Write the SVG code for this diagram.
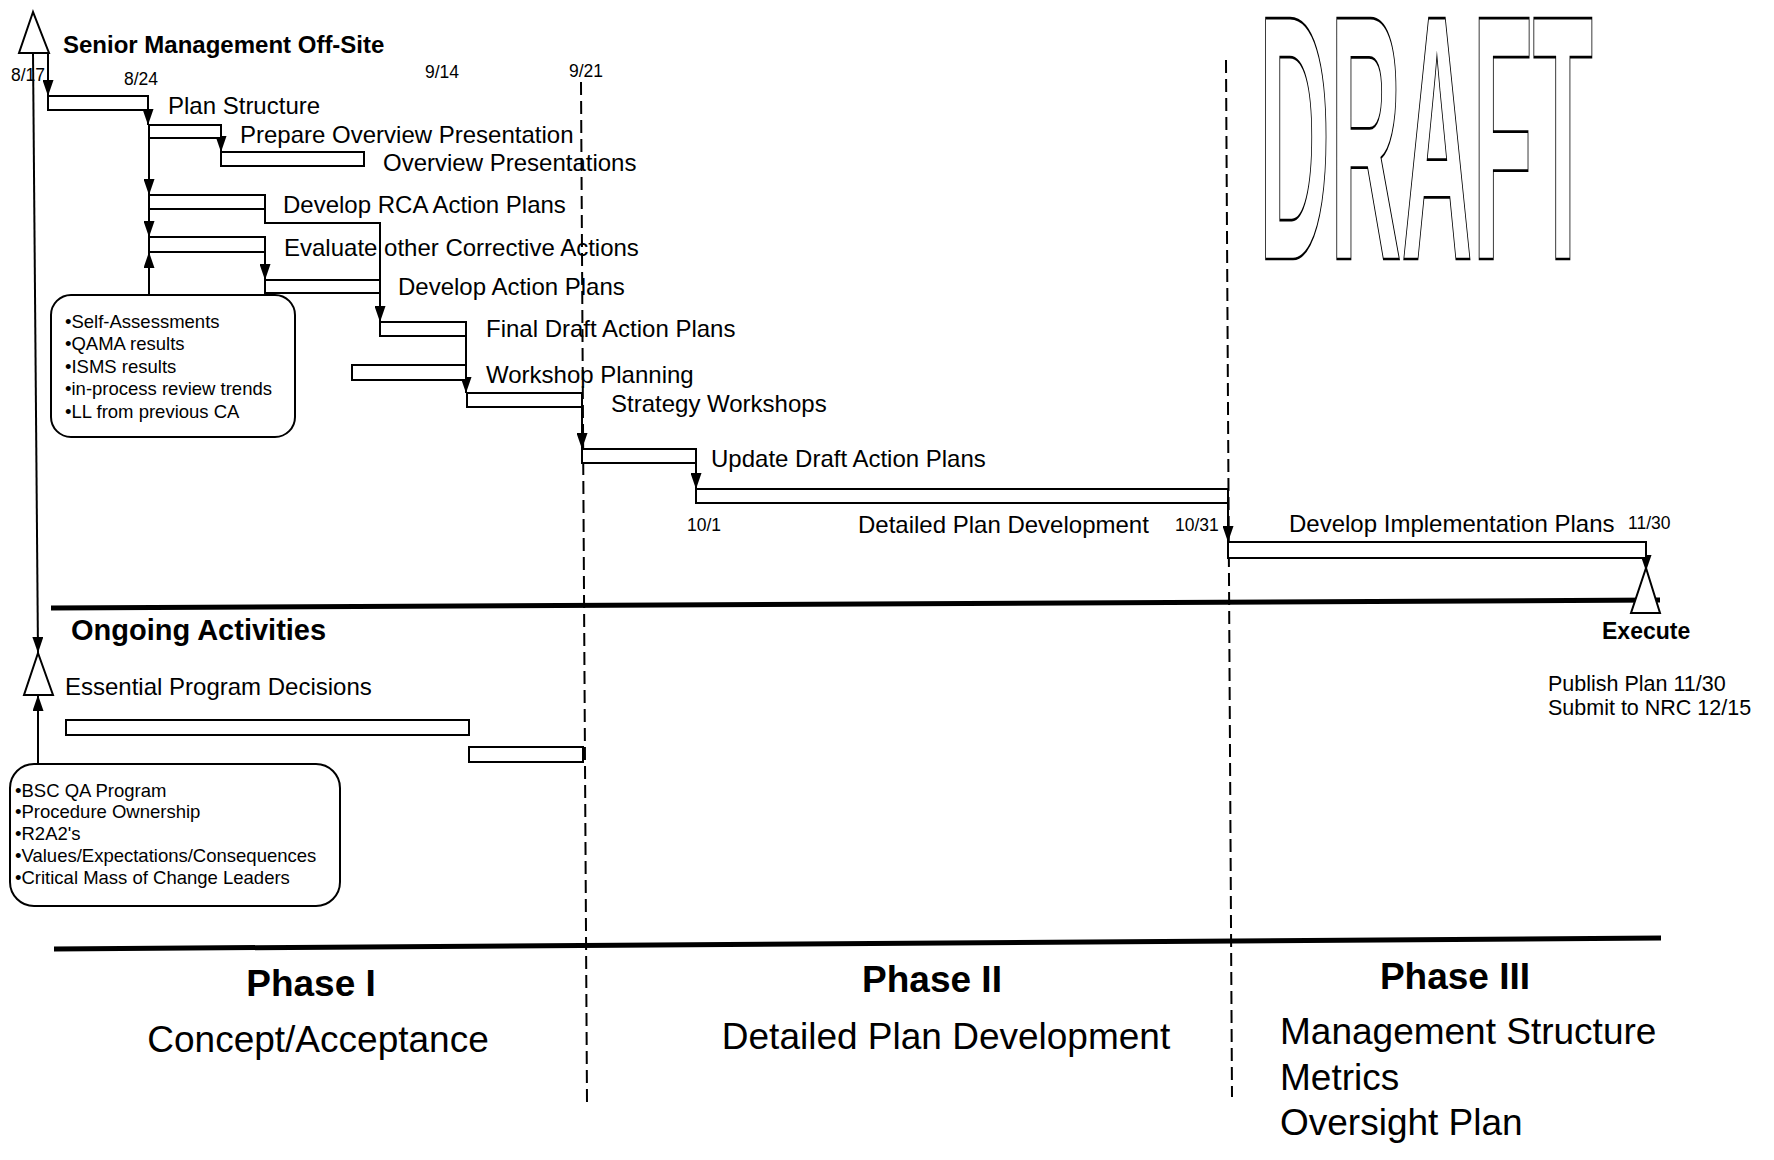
<svg xmlns="http://www.w3.org/2000/svg" width="1774" height="1160" viewBox="0 0 1774 1160">
<style>
text{font-family:"Liberation Sans",Arial,Helvetica,sans-serif;fill:#000}
.t{font-size:24px}
.d{font-size:17.5px}
.b{font-size:18.5px}
.bold{font-weight:bold}
.bar{fill:#fff;stroke:#000;stroke-width:2}
.box{fill:#fff;stroke:#000;stroke-width:2}
.ms{fill:#fff;stroke:#000;stroke-width:2;stroke-linejoin:miter}
.c{fill:none;stroke:#000;stroke-width:2}
.dash{fill:none;stroke:#000;stroke-width:2;stroke-dasharray:13 6}
.thick{fill:none;stroke:#000;stroke-width:5}
.ph{font-size:37px}
</style>
<defs>
<marker id="ah" viewBox="0 0 16 11" refX="16" refY="5.5" markerWidth="16" markerHeight="11" markerUnits="userSpaceOnUse" orient="auto">
<path d="M0,0 L16,5.5 L0,11 Z" fill="#000"/>
</marker>
</defs>
<rect width="1774" height="1160" fill="#fff"/>

<g id="draft-stamp">
<text transform="translate(1259,259) scale(0.2816,1)" x="0" y="0" font-size="350" font-weight="bold" style="fill:#fff;stroke:#000;stroke-width:2" vector-effect="non-scaling-stroke">DRAFT</text>
</g>

<g id="phase-lines">
<line class="dash" x1="581" y1="82" x2="587" y2="1102"/>
<line class="dash" x1="1226" y1="60" x2="1232" y2="1097"/>
<line class="thick" x1="51" y1="608" x2="1660" y2="600"/>
<line class="thick" x1="54" y1="949" x2="1661" y2="938"/>
</g>

<g id="connectors">
<path class="c" d="M48,53 V96" marker-end="url(#ah)"/>
<path class="c" d="M148,110 V125" marker-end="url(#ah)"/>
<path class="c" d="M221,138 V152" marker-end="url(#ah)"/>
<path class="c" d="M149,138 V195" marker-end="url(#ah)"/>
<path class="c" d="M149,209 V237" marker-end="url(#ah)"/>
<path class="c" d="M149,295 V252" marker-end="url(#ah)"/>
<path class="c" d="M265,209 V223 H380 V322" marker-end="url(#ah)"/>
<path class="c" d="M265,252 V280" marker-end="url(#ah)"/>
<path class="c" d="M466,336 V393" marker-end="url(#ah)"/>
<path class="c" d="M582,407 V449" marker-end="url(#ah)"/>
<path class="c" d="M696,463 V489" marker-end="url(#ah)"/>
<path class="c" d="M1228,503 V542" marker-end="url(#ah)"/>
<path class="c" d="M1646,558 V571" marker-end="url(#ah)"/>
<path class="c" d="M33,53 L38,653" marker-end="url(#ah)"/>
<path class="c" d="M38,763 V695" marker-end="url(#ah)"/>
</g>

<g id="senior-offsite">
<polygon class="ms" points="33,12 19,53 49,53"/>
<text class="bold" x="63" y="53" font-size="24">Senior Management Off-Site</text>
</g>

<g id="dates">
<text class="d" x="11" y="81">8/17</text>
<text class="d" x="124" y="85">8/24</text>
<text class="d" x="425" y="78">9/14</text>
<text class="d" x="569" y="77">9/21</text>
<text class="d" x="687" y="531">10/1</text>
<text class="d" x="1175" y="531">10/31</text>
<text class="d" x="1628" y="529">11/30</text>
</g>

<g id="plan-structure">
<rect class="bar" x="48" y="96" width="100" height="14"/>
<text class="t" x="168" y="114">Plan Structure</text>
</g>
<g id="prepare-overview">
<rect class="bar" x="149" y="125" width="72" height="13"/>
<text class="t" x="240" y="143">Prepare Overview Presentation</text>
</g>
<g id="overview-presentations">
<rect class="bar" x="221" y="152" width="143" height="14"/>
<text class="t" x="383" y="171">Overview Presentations</text>
</g>
<g id="develop-rca">
<rect class="bar" x="149" y="195" width="116" height="14"/>
<text class="t" x="283" y="213">Develop RCA Action Plans</text>
</g>
<g id="evaluate">
<rect class="bar" x="149" y="237" width="116" height="15"/>
<text class="t" x="284" y="256">Evaluate other Corrective Actions</text>
</g>
<g id="develop-action-plans">
<rect class="bar" x="265" y="280" width="115" height="13"/>
<text class="t" x="398" y="295">Develop Action Plans</text>
</g>
<g id="final-draft">
<rect class="bar" x="380" y="322" width="86" height="14"/>
<text class="t" x="486" y="337">Final Draft Action Plans</text>
</g>
<g id="workshop-planning">
<rect class="bar" x="352" y="365" width="114" height="15"/>
<text class="t" x="486" y="383">Workshop Planning</text>
</g>
<g id="strategy-workshops">
<rect class="bar" x="467" y="393" width="115" height="14"/>
<text class="t" x="611" y="412">Strategy Workshops</text>
</g>
<g id="update-draft">
<rect class="bar" x="582" y="449" width="114" height="14"/>
<text class="t" x="711" y="467">Update Draft Action Plans</text>
</g>
<g id="detailed-plan">
<rect class="bar" x="696" y="489" width="532" height="14"/>
<text class="t" x="858" y="533">Detailed Plan Development</text>
</g>
<g id="develop-implementation">
<rect class="bar" x="1228" y="542" width="418" height="16"/>
<text class="t" x="1289" y="532">Develop Implementation Plans</text>
</g>

<g id="inputs-box">
<rect class="box" x="51" y="295" width="244" height="142" rx="20" ry="20"/>
<text class="b" x="65" y="328">•Self-Assessments</text>
<text class="b" x="65" y="350">•QAMA results</text>
<text class="b" x="65" y="373">•ISMS results</text>
<text class="b" x="65" y="395">•in-process review trends</text>
<text class="b" x="65" y="418">•LL from previous CA</text>
</g>

<g id="execute">
<polygon class="ms" points="1646,568 1631,613 1660,613"/>
<text class="bold" x="1602" y="639" font-size="23">Execute</text>
<text x="1548" y="691" font-size="21.5">Publish Plan 11/30</text>
<text x="1548" y="715" font-size="21.5">Submit to NRC 12/15</text>
</g>

<g id="ongoing-activities">
<text class="bold" x="71" y="640" font-size="29">Ongoing Activities</text>
</g>
<g id="essential-decisions">
<polygon class="ms" points="38,653 24,695 53,695"/>
<text class="t" x="65" y="695">Essential Program Decisions</text>
</g>
<g id="ongoing-bar-1">
<rect class="bar" x="66" y="720" width="403" height="15"/>
</g>
<g id="ongoing-bar-2">
<rect class="bar" x="469" y="747" width="114" height="15"/>
</g>
<g id="decisions-box">
<rect class="box" x="10" y="764" width="330" height="142" rx="24" ry="24"/>
<text class="b" x="15" y="797">•BSC QA Program</text>
<text class="b" x="15" y="818">•Procedure Ownership</text>
<text class="b" x="15" y="840">•R2A2's</text>
<text class="b" x="15" y="862">•Values/Expectations/Consequences</text>
<text class="b" x="15" y="884">•Critical Mass of Change Leaders</text>
</g>

<g id="phase-1">
<text class="ph bold" x="311" y="996" text-anchor="middle">Phase I</text>
<text class="ph" x="318" y="1052" text-anchor="middle">Concept/Acceptance</text>
</g>
<g id="phase-2">
<text class="ph bold" x="932" y="992" text-anchor="middle">Phase II</text>
<text class="ph" x="946" y="1049" text-anchor="middle">Detailed Plan Development</text>
</g>
<g id="phase-3">
<text class="ph bold" x="1455" y="989" text-anchor="middle">Phase III</text>
<text class="ph" x="1280" y="1044">Management Structure</text>
<text class="ph" x="1280" y="1090">Metrics</text>
<text class="ph" x="1280" y="1135">Oversight Plan</text>
</g>
</svg>
